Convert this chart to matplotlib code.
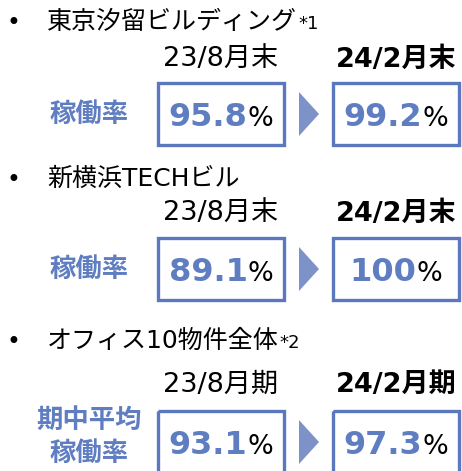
import matplotlib.pyplot as plt
from matplotlib.patches import Rectangle, Polygon

plt.rcParams['font.family'] = ['Noto Sans CJK JP', 'DejaVu Sans']
latin_first = ['DejaVu Sans', 'Noto Sans CJK JP']

### data
titles = ['東京汐留ビルディング', '新横浜TECHビル', 'オフィス10物件全体']
notes = ['*1', '', '*2']
before_labels = ['23/8月末', '23/8月末', '23/8月期']
after_labels = ['24/2月末', '24/2月末', '24/2月期']
rate_labels = ['稼働率', '稼働率', '期中平均\n稼働率']
before_values = ['95.8', '89.1', '93.1']
after_values = ['99.2', '100', '97.3']

### layout (pixels)
W, H = 462, 471
title_y = [22, 179, 341]
label_y = [60, 214, 385]
box_top = [83, 238, 411]
box_h = 62
box_x = [158, 333]
box_w = 126

border = '#5B78BE'
arrow_c = '#7D93C8'
blue = '#5F7DC1'

fig = plt.figure(figsize=(W / 100, H / 100), dpi=100)
ax = fig.add_axes([0, 0, 1, 1])
ax.set_xlim(0, W)
ax.set_ylim(H, 0)
ax.axis('off')
renderer = fig.canvas.get_renderer()


def width_of(t):
    bb = t.get_window_extent(renderer=renderer)
    return bb.width


def percent(cx, cy, value):
    t1 = ax.text(0, cy, value, fontsize=23, fontweight='bold', color=blue,
                 family='DejaVu Sans', ha='left', va='baseline')
    t2 = ax.text(0, cy, '%', fontsize=19.5, color='black', family='DejaVu Sans',
                 ha='left', va='baseline')
    w1, w2 = width_of(t1), width_of(t2)
    x0 = cx - (w1 + w2) / 2
    t1.set_x(x0)
    t2.set_x(x0 + w1)


for i in range(3):
    ax.text(13, title_y[i] + 1, '•', fontsize=17, ha='center', va='center',
            family='DejaVu Sans')
    t = ax.text(47, title_y[i], titles[i], fontsize=18, ha='left', va='center',
                family=latin_first)
    if notes[i]:
        x_end = 47 + width_of(t)
        ax.text(x_end + 1, title_y[i] + 2, notes[i], fontsize=13, ha='left',
                va='center', family='DejaVu Sans')

    ax.text(box_x[0] + box_w / 2, label_y[i], before_labels[i], fontsize=19.5,
            ha='center', va='center', family=latin_first)
    ax.text(box_x[1] + box_w / 2, label_y[i], after_labels[i], fontsize=19.5,
            fontweight='bold', ha='center', va='center', family=latin_first)

    cy = box_top[i] + box_h / 2
    for bx in box_x:
        ax.add_patch(Rectangle((bx, box_top[i]), box_w, box_h, fill=False,
                               edgecolor=border, linewidth=2.4))
    percent(box_x[0] + box_w / 2, cy + 12, before_values[i])
    percent(box_x[1] + box_w / 2, cy + 12, after_values[i])

    ax.add_patch(Polygon([(299, cy - 22), (319, cy), (299, cy + 22)],
                         closed=True, facecolor=arrow_c, edgecolor='none'))

    ax.text(89, cy if i < 2 else cy - 5, rate_labels[i], fontsize=19,
            fontweight='bold', color=blue, ha='center', va='center',
            linespacing=1.25)

fig.savefig('out.png', dpi=100)
